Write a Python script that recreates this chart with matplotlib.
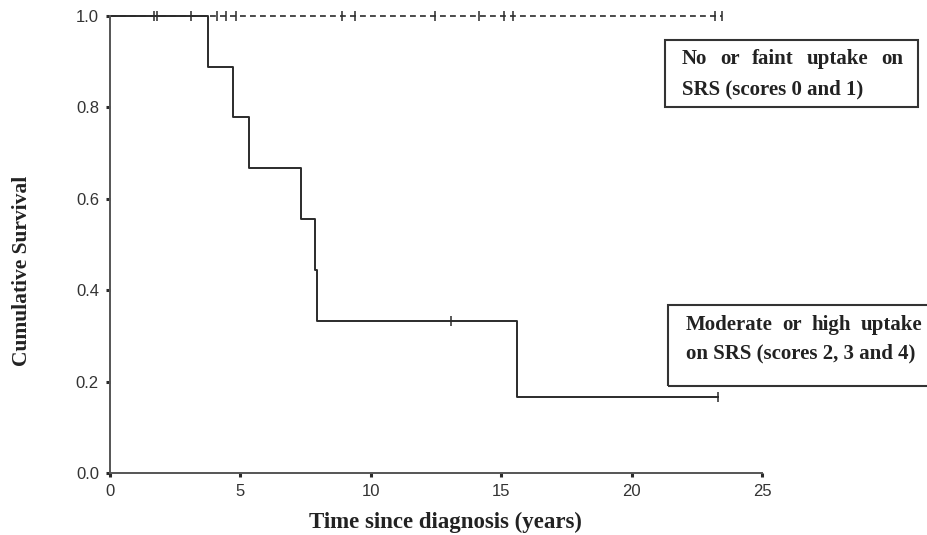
import matplotlib
matplotlib.use("Agg")
import matplotlib.pyplot as plt
from matplotlib.patches import Rectangle

# Kaplan-Meier curve, moderate/high uptake group
high_times = [0, 3.75, 4.70, 5.33, 7.31, 7.86, 7.92, 15.59, 23.3]
high_surv = [1.0, 0.889, 0.778, 0.667, 0.556, 0.444, 0.333, 0.167, 0.167]
high_cens_t = [13.07, 23.3]
high_cens_s = [0.333, 0.167]

# no/faint uptake group: nobody died, only censored cases
low_times = [0, 23.47]
low_surv = [1.0, 1.0]
low_cens_t = [1.69, 1.80, 3.1, 4.1, 4.45, 4.83, 8.9, 9.4, 12.45, 14.15,
              15.1, 15.45, 23.2, 23.47]

x_ticks = [0, 5, 10, 15, 20, 25]
y_ticks = [0.0, 0.2, 0.4, 0.6, 0.8, 1.0]

W, H = 928, 535
INK = "#2b2b2b"
SERIF = ["Liberation Serif", "DejaVu Serif"]

fig = plt.figure(figsize=(W / 100, H / 100), dpi=100)
ax = fig.add_axes([110 / W, 62 / H, 652 / W, 457 / H])

ax.step(high_times, high_surv, where="post", color=INK, lw=1.4, clip_on=False)
ax.plot(high_cens_t, high_cens_s, ls="none", marker="|", ms=7, mew=1.1,
        color=INK, clip_on=False)
ax.plot(low_times, low_surv, color=INK, lw=1.2, ls=(0, (3.5, 2.5)), clip_on=False)
ax.plot(low_cens_t, [1.0] * len(low_cens_t), ls="none", marker="|", ms=7,
        mew=1.1, color=INK, clip_on=False)

ax.set_xlim(0, 25)
ax.set_ylim(0, 1.0)
ax.set_xticks(x_ticks)
ax.set_yticks(y_ticks)
ax.set_xticklabels([str(v) for v in x_ticks])
ax.set_yticklabels([f"{v:.1f}" for v in y_ticks])
for side in ("top", "right"):
    ax.spines[side].set_visible(False)
for side in ("left", "bottom"):
    ax.spines[side].set_color("#555555")
    ax.spines[side].set_linewidth(1.4)
ax.tick_params(direction="out", length=3, width=2.2, color=INK,
               labelsize=12, labelcolor="#333333", pad=5)
for lab in ax.get_xticklabels() + ax.get_yticklabels():
    lab.set_family(["Liberation Sans", "DejaVu Sans"])

fig.text(445 / W, 1 - 522 / H, "Time since diagnosis (years)", ha="center",
         va="center", family=SERIF, weight="bold", fontsize=16.5, color="#222222")
fig.text(22 / W, 1 - 271 / H, "Cumulative Survival", ha="center", va="center",
         rotation=90, family=SERIF, weight="bold", fontsize=15.5, color="#222222")


def px(x, y):
    return x / W, 1 - y / H


def justified(words, x0, x1, y):
    """Spread words over [x0, x1] (pixels) like a justified text line."""
    texts = [fig.text(*px(x0, y), w, ha="left", va="center", family=SERIF,
                      weight="bold", fontsize=15, color="#222222")
             for w in words]
    rend = fig.canvas.get_renderer()
    widths = [t.get_window_extent(rend).width for t in texts]
    gap = (x1 - x0 - sum(widths)) / (len(words) - 1)
    x = x0
    for t, w in zip(texts, widths):
        t.set_position(px(x, y))
        x += w + gap


def plain(s, x0, y):
    fig.text(*px(x0, y), s, ha="left", va="center", family=SERIF,
             weight="bold", fontsize=15, color="#222222")


# legend-like boxes
fig.add_artist(Rectangle(px(665, 107), 253 / W, 67 / H, transform=fig.transFigure,
                         fill=False, ec="#333333", lw=1.5))
justified(["No", "or", "faint", "uptake", "on"], 682, 903, 59)
plain("SRS (scores 0 and 1)", 682, 89)

fig.add_artist(Rectangle(px(668, 386), 270 / W, 81 / H, transform=fig.transFigure,
                         fill=False, ec="#333333", lw=1.5))
justified(["Moderate", "or", "high", "uptake"], 686, 922, 325)
plain("on SRS (scores 2, 3 and 4)", 686, 353)

fig.savefig("out.png", dpi=100)
